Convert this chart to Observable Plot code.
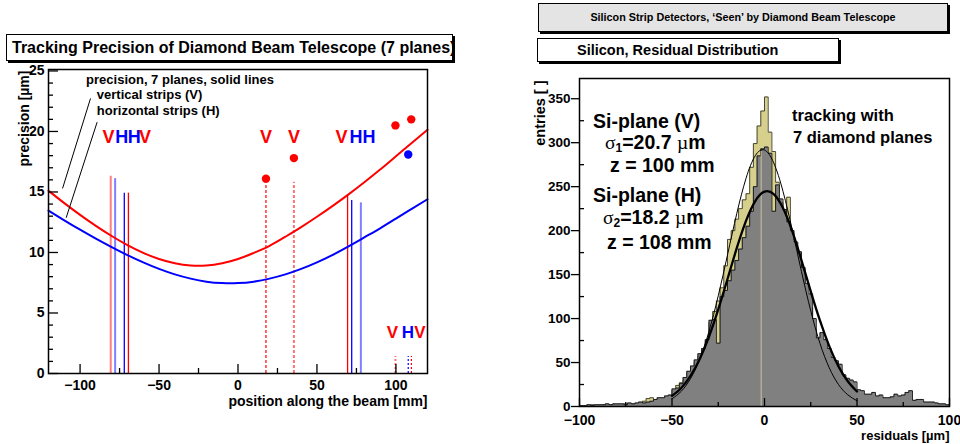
<!DOCTYPE html>
<html><head><meta charset="utf-8">
<script src="https://cdn.jsdelivr.net/npm/d3@7"></script>
<script src="https://cdn.jsdelivr.net/npm/@observablehq/plot@0.6"></script>
<style>
html,body{margin:0;padding:0;}
body{width:960px;height:444px;overflow:hidden;background:#fff;position:relative;font-family:"Liberation Sans",Arial,Helvetica,sans-serif;font-weight:bold;color:#000;}
.abs{position:absolute;}
.box{position:absolute;border:1px solid #000;box-shadow:2px 2px 0 #000;background:#fff;box-sizing:border-box;white-space:nowrap;}
.ann{position:absolute;white-space:nowrap;line-height:18px;height:18px;}
.sym{font-weight:normal;font-family:"Liberation Serif",serif;line-height:0;}
sub{font-size:0.62em;vertical-align:-0.22em;line-height:0;}
</style></head><body>
<div id="left" class="abs" style="left:0;top:0;width:470px;height:444px"></div>
<div id="right" class="abs" style="left:490px;top:0;width:470px;height:444px"></div>

<div class="box" style="left:6px;top:34px;width:447px;height:27px;font-size:16px;line-height:25px;padding-left:5px;">Tracking Precision of Diamond Beam Telescope (7 planes)</div>
<div class="box" style="left:538px;top:3px;width:410px;height:29px;font-size:10.8px;line-height:27px;text-align:center;background:#e4e4e4;">Silicon Strip Detectors, ‘Seen’ by Diamond Beam Telescope</div>
<div class="box" style="left:537px;top:38px;width:302px;height:24px;font-size:14.5px;line-height:22px;padding-left:39px;">Silicon, Residual Distribution</div>

<div class="ann" style="left:593px;top:112px;font-size:19.5px;">Si-plane (V)</div>
<div class="ann" style="left:605px;top:133px;font-size:19.5px;"><span class="sym">σ</span><sub>1</sub>=20.7 <span class="sym">µ</span>m</div>
<div class="ann" style="left:610px;top:156px;font-size:19.5px;">z = 100 mm</div>
<div class="ann" style="left:593px;top:186px;font-size:19.5px;">Si-plane (H)</div>
<div class="ann" style="left:603px;top:208px;font-size:19.5px;"><span class="sym">σ</span><sub>2</sub>=18.2 <span class="sym">µ</span>m</div>
<div class="ann" style="left:607px;top:233px;font-size:19.5px;">z = 108 mm</div>
<div class="ann" style="left:792px;top:106px;font-size:16.5px;">tracking with</div>
<div class="ann" style="left:793px;top:128px;font-size:16.5px;">7 diamond planes</div>

<script>
// ---------------- LEFT PANEL DATA ----------------
const zGrid = [-120,-110,-100,-90,-80,-70,-60,-50,-40,-30,-20,-10,0,10,20,30,40,50,60,70,80,90,100,110,120];
const precisionV = [15.1,14.08,13.11,12.2,11.36,10.61,9.97,9.46,9.11,8.92,8.92,9.11,9.46,9.97,10.55,11.3,12.1,12.95,13.85,14.8,15.8,16.85,17.95,19.05,20.15];
const precisionH = [13.46,12.66,11.88,11.14,10.44,9.78,9.18,8.64,8.19,7.84,7.59,7.47,7.47,7.59,7.84,8.19,8.64,9.18,9.8,10.5,11.25,12.0,12.8,13.6,14.4];

const planeZ    = [-80.6,-77.8,-72,-69.4,17.7,35.4,69.4,72,77.8,99.7,107.8,109.8];
const planeTop  = [16.3,16.1,14.9,14.9,15.8,15.8,14.7,14.3,14.1,1.4,1.4,1.4];
const planeType = ["V","H","H","V","V","V","V","H","H","V","H","V"];
const planeKind = ["far","far","near","near","dut","dutFar","near","near","far","siFar","si","si"];

const measZ     = [17.7,35.4,99.7,109.7,107.8];
const measSigma = [16.1,17.8,20.5,21.0,18.1];
const measType  = ["V","V","V","V","H"];

const letterText = ["V","H","H","V","V","V","V","H","H"];
const letterZ    = [-82,-73.6,-65.7,-58.9,17.8,35.5,65.6,74.7,83];
const letterY    = [19.5,19.5,19.5,19.5,19.5,19.5,19.5,19.5,19.5];
const siLetterText = ["V","H","V"];
const siLetterZ    = [97.8,107.6,115.2];
const siLetterY    = [3.4,3.4,3.4];

const legendText = ["precision, 7 planes, solid lines","vertical strips (V)","horizontal strips (H)"];
const legendZ    = [-96.2,-89.4,-89.4];
const legendY    = [24.26,23.0,21.74];
const pointerFromZ = [-93.4,-89.2], pointerFromY = [22.73,20.77];
const pointerToZ   = [-111.1,-108.8], pointerToY   = [15.29,12.87];

const leftMajorX = [-100,-50,0,50,100], leftMinorX = [-75,-25,25,75];
const leftMajorY = [0,5,10,15,20,25];
const leftMinorY = [1,2,3,4,6,7,8,9,11,12,13,14,16,17,18,19,21,22,23,24];

// ---------------- RIGHT PANEL DATA ----------------
// 100 bins of 2 µm from -100 to 100
const residualH = [
  1,1,2,1,2, 2,2,3,2,3, 3,3,2,4,3, 4,5,4,5,6, 8,10,10,12,13,
  20,21,26,33,40, 46,53,60,66,76, 98,99,72,125,132, 143,155,166,179,192, 205,222,250,285,293,
  295,288,222,252,236, 224,210,200,187,176, 158,140,128,100,78, 84,76,66,56,52, 48,36,32,30,28,
  19,18,14,14,16, 12,13,10,10,11, 14,12,13,16,18, 7,8,8,5,5, 5,4,3,3,2];
const residualV = [
  1,0,1,2,1, 1,2,2,2,2, 2,2,3,3,3, 3,4,6,9,10, 7,8,9,10,12,
  18,24,27,30,38, 44,50,57,64,74, 95,108,120,135,160, 190,200,213,225,235, 242,272,299,319,336,
  352,312,290,255,232, 220,238,190,180,168, 150,125,112,88,70, 66,60,54,48,40, 34,29,24,21,17,
  15,13,11,10,9, 8,7,7,6,6, 5,5,5,4,4, 4,3,3,3,2, 2,2,2,1,1];
const fitX      = [-50,-45,-40,-35,-30,-25,-20,-15,-10,-5,0,5,10,15,20,25,30,35,40,45,50];
const fitVvalue = [12.1,21.1,34.8,54.1,79.5,110.5,145,180,211,233.6,244.4,241.6,225.7,199.3,166.2,131,97.6,68.7,45.6,28.7,17.0];
const fitHvalue = [8.7,17.3,31.7,53.9,85.5,125.9,172.4,219.3,259.4,285.2,291.6,277,244.7,200.9,153.3,108.8,71.7,44,25,13.3,6.5];
const meanMarkX = [-1.8], meanMarkTop = [290];

const rightMajorX = [-100,-50,0,50,100], rightMinorX = [-75,-25,25,75];
const rightMajorY = [0,50,100,150,200,250,300,350];
const rightMinorY = [25,75,125,175,225,275,325];

// ---------------- BUILD ----------------
const FONT = "Liberation Sans, Arial, Helvetica, sans-serif";
const RED = "#ff0000", BLUE = "#0000ff";
const colorScale = {domain: ["V","H"], range: [RED, BLUE]};

const curves = zGrid.flatMap((z,i) => [
  {z, sigma: precisionV[i], type: "V"},
  {z, sigma: precisionH[i], type: "H"}
]);
const planes = planeZ.map((z,i) => ({z, top: planeTop[i], type: planeType[i], kind: planeKind[i]}));
const meas = measZ.map((z,i) => ({z, sigma: measSigma[i], type: measType[i]}));
const letters = letterText.map((t,i) => ({t, z: letterZ[i], y: letterY[i], type: t}));
const siLetters = siLetterText.map((t,i) => ({t, z: siLetterZ[i], y: siLetterY[i], type: t}));
const legend = legendText.map((t,i) => ({t, z: legendZ[i], y: legendY[i]}));
const pointers = pointerFromZ.map((z,i) => ({x1: z, y1: pointerFromY[i], x2: pointerToZ[i], y2: pointerToY[i]}));

const ofKind = k => planes.filter(d => d.kind === k);
const tk = {stroke: "#000", strokeWidth: 1.3};

// left frame: 379 x 304 px
const LW = 470 - 48 - 43, LH = 444 - 69 - 71;
const left = Plot.plot({
  width: 470, height: 444,
  marginLeft: 48, marginRight: 43, marginTop: 69, marginBottom: 71,
  x: {domain: [-120, 120], axis: null},
  y: {domain: [0, 25.12], axis: null},
  color: colorScale,
  style: {fontFamily: FONT, fontWeight: "bold", background: "transparent", color: "#000"},
  marks: [
    Plot.ruleX(ofKind("far"), {x: "z", y1: 0, y2: "top", stroke: "type", strokeOpacity: 0.5, strokeWidth: 2}),
    Plot.ruleX(ofKind("near"), {x: "z", y1: 0, y2: "top", stroke: "type", strokeWidth: 1.3}),
    Plot.ruleX(ofKind("dut"), {x: "z", y1: 0, y2: "top", stroke: "type", strokeWidth: 1.2, strokeDasharray: "3,2"}),
    Plot.ruleX(ofKind("dutFar"), {x: "z", y1: 0, y2: "top", stroke: "type", strokeOpacity: 0.55, strokeWidth: 2, strokeDasharray: "3,2"}),
    Plot.ruleX(ofKind("siFar"), {x: "z", y1: 0, y2: "top", stroke: "type", strokeOpacity: 0.55, strokeWidth: 2, strokeDasharray: "2,2"}),
    Plot.ruleX(ofKind("si"), {x: "z", y1: 0, y2: "top", stroke: "type", strokeWidth: 1.2, strokeDasharray: "2,2"}),
    Plot.line(curves, {x: "z", y: "sigma", z: "type", stroke: "type", strokeWidth: 2, curve: "natural"}),
    Plot.dot(meas, {x: "z", y: "sigma", fill: "type", r: 4.2}),
    Plot.text(letters, {x: "z", y: "y", text: "t", fill: "type", fontSize: 18, fontWeight: "bold"}),
    Plot.text(siLetters, {x: "z", y: "y", text: "t", fill: "type", fontSize: 17, fontWeight: "bold"}),
    Plot.text(legend, {x: "z", y: "y", text: "t", textAnchor: "start", fontSize: 13, fontWeight: "bold", fill: "#000"}),
    Plot.link(pointers, {x1: "x1", y1: "y1", x2: "x2", y2: "y2", stroke: "#000", strokeWidth: 1}),
    // ticks inside the frame
    Plot.ruleX(leftMajorX, {...tk, insetTop: LH - 9}),
    Plot.ruleX(leftMinorX, {...tk, insetTop: LH - 5}),
    Plot.ruleY(leftMajorY, {...tk, insetRight: LW - 10}),
    Plot.ruleY(leftMinorY, {...tk, insetRight: LW - 5}),
    Plot.axisX({ticks: leftMajorX, tickSize: 0, tickPadding: 7, fontSize: 14, fontWeight: "bold", label: null}),
    Plot.axisY({ticks: leftMajorY, tickSize: 0, tickPadding: 4, fontSize: 14, fontWeight: "bold", label: null}),
    Plot.frame({stroke: "#000", strokeWidth: 1.5}),
    Plot.text(["position along the beam [mm]"], {frameAnchor: "bottom-right", textAnchor: "end", dy: 32.5, fontSize: 14, fontWeight: "bold", fill: "#000"}),
    Plot.text(["precision [µm]"], {frameAnchor: "top-left", textAnchor: "end", rotate: -90, dx: -29, dy: 1, fontSize: 14, fontWeight: "bold", fill: "#000"})
  ]
});
document.getElementById("left").appendChild(left);

const binLo = residualH.map((_, i) => -100 + 2 * i);
const steps = vals => vals.map((v, i) => ({x: binLo[i], y: v})).concat([{x: 100, y: vals[vals.length - 1]}]);
const stepsH = steps(residualH), stepsV = steps(residualV);
const fitV = fitX.map((x, i) => ({x, y: fitVvalue[i]}));
const fitH = fitX.map((x, i) => ({x, y: fitHvalue[i]}));
const meanMark = meanMarkX.map((x, i) => ({x, top: meanMarkTop[i]}));

// right frame: 370 x 328 px
const RW = 470 - 89 - 11, RH = 444 - 78 - 38;
const right = Plot.plot({
  width: 470, height: 444,
  marginLeft: 89, marginRight: 11, marginTop: 78, marginBottom: 38,
  x: {domain: [-100, 100], axis: null},
  y: {domain: [0, 373], axis: null},
  style: {fontFamily: FONT, fontWeight: "bold", background: "transparent", color: "#000", overflow: "visible"},
  marks: [
    Plot.areaY(stepsV, {x: "x", y: "y", curve: "step-after", fill: "#d6d08c"}),
    Plot.lineY(stepsV, {x: "x", y: "y", curve: "step-after", stroke: "#3a3a2a", strokeWidth: 0.9}),
    Plot.areaY(stepsH, {x: "x", y: "y", curve: "step-after", fill: "#808080"}),
    Plot.lineY(stepsH, {x: "x", y: "y", curve: "step-after", stroke: "#111", strokeWidth: 0.9}),
    Plot.ruleX(meanMark, {x: "x", y1: 0, y2: "top", stroke: "#c9c2a0", strokeWidth: 1}),
    Plot.line(fitH, {x: "x", y: "y", curve: "natural", stroke: "#000", strokeWidth: 1}),
    Plot.line(fitV, {x: "x", y: "y", curve: "natural", stroke: "#000", strokeWidth: 2.3}),
    Plot.ruleY(rightMajorY, {...tk, insetLeft: -8, insetRight: RW}),
    Plot.ruleY(rightMinorY, {...tk, insetRight: RW - 5}),
    Plot.ruleX(rightMajorX, {...tk, insetTop: RH - 8}),
    Plot.ruleX(rightMinorX, {...tk, insetTop: RH - 4}),
    Plot.axisX({ticks: rightMajorX, tickSize: 0, tickPadding: 9, fontSize: 14, fontWeight: "bold", label: null}),
    Plot.axisY({ticks: rightMajorY, tickSize: 0, tickPadding: 9, fontSize: 13.5, fontWeight: "bold", label: null}),
    Plot.frame({stroke: "#000", strokeWidth: 1.5}),
    Plot.text(["residuals [µm]"], {frameAnchor: "bottom-right", textAnchor: "end", dy: 33, fontSize: 13, fontWeight: "bold", fill: "#000"}),
    Plot.text(["entries [ ]"], {frameAnchor: "top-left", textAnchor: "end", rotate: -90, dx: -45, dy: 2, fontSize: 14.5, fontWeight: "bold", fill: "#000"})
  ]
});
document.getElementById("right").appendChild(right);
</script>
</body></html>
